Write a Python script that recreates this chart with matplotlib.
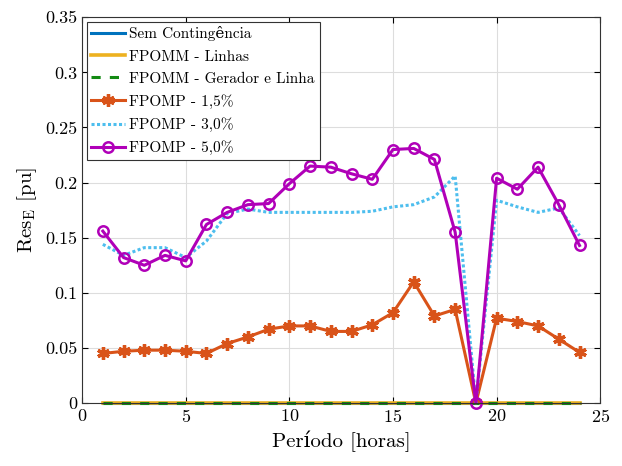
import numpy as np
import matplotlib.pyplot as plt

plt.rcParams['font.family'] = ['cmr10', 'DejaVu Serif']
plt.rcParams['mathtext.fontset'] = 'cm'
plt.rcParams['axes.formatter.use_mathtext'] = True

# periodo (horas)
horas = np.arange(1, 25)

sem_contingencia = np.zeros(24)
fpomm_linhas = np.zeros(24)
fpomm_ger_linha = np.zeros(24)

fpomp_15 = [0.045, 0.047, 0.048, 0.048, 0.047, 0.045, 0.054, 0.060,
            0.067, 0.070, 0.070, 0.065, 0.065, 0.071, 0.082, 0.110,
            0.079, 0.085, 0.000, 0.077, 0.074, 0.070, 0.058, 0.046]
fpomp_30 = [0.144, 0.134, 0.141, 0.141, 0.132, 0.147, 0.172, 0.176,
            0.173, 0.173, 0.173, 0.173, 0.173, 0.174, 0.178, 0.180,
            0.187, 0.206, 0.000, 0.184, 0.178, 0.173, 0.177, 0.152]
fpomp_50 = [0.156, 0.132, 0.125, 0.134, 0.129, 0.162, 0.173, 0.180,
            0.181, 0.199, 0.215, 0.214, 0.208, 0.203, 0.230, 0.231,
            0.221, 0.155, 0.000, 0.204, 0.194, 0.214, 0.180, 0.143]

fig = plt.figure(figsize=(6.22, 4.66), dpi=100)
ax = fig.add_axes([0.132, 0.135, 0.833, 0.828])

# curvas nulas ficam sobre o eixo, sem recorte
ax.plot(horas, sem_contingencia, color='#0072BD', lw=2.2, clip_on=False,
        label='Sem Contingência')
ax.plot(horas, fpomm_linhas, color='#EDB120', lw=2.6, clip_on=False,
        label='FPOMM - Linhas')
ax.plot(horas, fpomm_ger_linha, color='#138a13', lw=2.2, ls=(0, (3, 3)),
        clip_on=False, label='FPOMM - Gerador e Linha')
ax.plot(horas, fpomp_15, color='#D95319', lw=2.2, marker=(6, 2, 0), ms=9,
        mew=2.4, label='FPOMP - 1,5%')
ax.plot(horas, fpomp_30, color='#4DBEEE', lw=2.2, ls=(0, (1, 0.8)),
        label='FPOMP - 3,0%')
ax.plot(horas, fpomp_50, color='#B000B8', lw=2.2, marker='o', ms=7.5,
        mfc='none', mew=1.8, clip_on=False, label='FPOMP - 5,0%')

ax.set_xlim(0, 25)
ax.set_ylim(0, 0.35)
ax.set_xticks(np.arange(0, 26, 5))
ax.set_yticks(np.arange(0, 0.351, 0.05))
ax.set_yticklabels(['0', '0.05', '0.1', '0.15', '0.2', '0.25', '0.3', '0.35'])
ax.tick_params(direction='in', top=True, right=True, labelsize=13, length=4)
ax.grid(True, color='#dddddd', lw=0.8)
for s in ax.spines.values():
    s.set_color('#333333')

ax.set_xlabel('Período [horas]', fontsize=15)
ax.set_ylabel(r'Res$_{\rm E}$ [pu]', fontsize=15)

leg = ax.legend(loc='upper left', fontsize=11, fancybox=False, framealpha=1,
                edgecolor='#333333', borderaxespad=0.3, handlelength=2.2,
                handletextpad=0.3, labelspacing=0.55, borderpad=0.3)
leg.get_frame().set_linewidth(0.8)

plt.savefig('out.png', dpi=100)
